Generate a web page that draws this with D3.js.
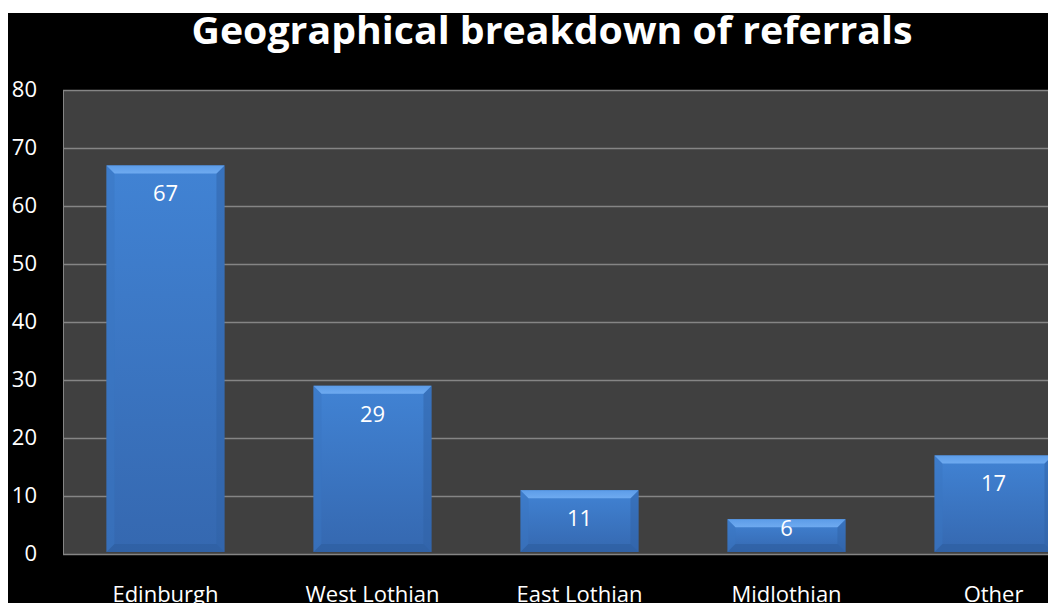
<!DOCTYPE html>
<html>
<head>
<meta charset="utf-8">
<script src="https://cdn.jsdelivr.net/npm/d3@7"></script>
<style>
  html, body { margin: 0; padding: 0; background: #fff; }
  svg { display: block; }
</style>
</head>
<body>
<div id="chart"></div>
<script>
// chart data
let categories = ["Edinburgh", "West Lothian", "East Lothian", "Midlothian", "Other"];
let referrals = [67, 29, 11, 6, 17];
let yTicks = [0, 10, 20, 30, 40, 50, 60, 70, 80];
let chartTitle = "Geographical breakdown of referrals";

let width = 1048, height = 603;
let plotLeft = 63, plotTop = 90, plotBottom = 554;

let svg = d3.select("#chart").append("svg")
    .attr("width", width)
    .attr("height", height);

// white edge then black chart background
svg.append("rect").attr("x", 8).attr("y", 13)
    .attr("width", width - 8).attr("height", height - 13)
    .attr("fill", "#000");

let x = d3.scaleBand()
    .domain(categories)
    .range([plotLeft, 1096])
    .paddingInner(0.43)
    .paddingOuter(0.21);

let y = d3.scaleLinear()
    .domain([0, 80])
    .range([plotBottom, plotTop]);

// plot area
svg.append("rect")
    .attr("x", plotLeft).attr("y", plotTop)
    .attr("width", width - plotLeft).attr("height", plotBottom - plotTop)
    .attr("fill", "#404040");

// gridlines
svg.append("g").selectAll("line")
    .data(yTicks)
    .enter().append("line")
    .attr("x1", plotLeft).attr("x2", width)
    .attr("y1", d => y(d) + 0.5).attr("y2", d => y(d) + 0.5)
    .attr("stroke", "#858585")
    .attr("stroke-width", 1.5);

svg.append("line")
    .attr("x1", plotLeft + 0.5).attr("x2", plotLeft + 0.5)
    .attr("y1", plotTop).attr("y2", plotBottom)
    .attr("stroke", "#858585");

// y axis labels
let yAxis = d3.axisLeft(y).tickValues(yTicks).tickSize(0).tickPadding(0);
let yg = svg.append("g")
    .attr("transform", "translate(37,0)")
    .call(yAxis);
yg.select(".domain").remove();
yg.selectAll("text")
    .attr("fill", "#fff")
    .attr("font-family", "'Open Sans', sans-serif")
    .attr("font-size", 22)
    .attr("dy", "0.3em");

// x axis labels (cut at the bottom edge, as in the original)
let xAxis = d3.axisBottom(x).tickSize(0).tickPadding(0);
let xg = svg.append("g")
    .call(xAxis);
xg.select(".domain").remove();
xg.selectAll("text")
    .attr("fill", "#fff")
    .attr("font-family", "'Open Sans', sans-serif")
    .attr("font-size", 22)
    .attr("y", 602)
    .attr("dy", 0);

// bar gradient
let defs = svg.append("defs");
let grad = defs.append("linearGradient")
    .attr("id", "barGrad")
    .attr("x1", 0).attr("y1", 0).attr("x2", 0).attr("y2", 1);
grad.append("stop").attr("offset", "0%").attr("stop-color", "#4183d4");
grad.append("stop").attr("offset", "100%").attr("stop-color", "#3568b0");

let topGrad = defs.append("linearGradient")
    .attr("id", "topGrad")
    .attr("x1", 0).attr("y1", 0).attr("x2", 0).attr("y2", 1);
topGrad.append("stop").attr("offset", "0%").attr("stop-color", "#5c9ce8");
topGrad.append("stop").attr("offset", "100%").attr("stop-color", "#6eaaf0");

let bev = 8;
let data = categories.map((c, i) => ({ cat: c, val: referrals[i] }));

let bars = svg.append("g").selectAll("g.bar")
    .data(data)
    .enter().append("g")
    .attr("class", "bar");

bars.append("rect")
    .attr("x", d => x(d.cat))
    .attr("y", d => y(d.val))
    .attr("width", x.bandwidth())
    .attr("height", d => y(0) - y(d.val) - 2)
    .attr("fill", "url(#barGrad)");

// bevel edges
function bevel(d, side) {
    let x0 = x(d.cat), x1 = x0 + x.bandwidth();
    let y0 = y(d.val), y1 = y(0) - 2;
    let pts;
    if (side === "top") pts = [[x0, y0], [x1, y0], [x1 - bev, y0 + bev], [x0 + bev, y0 + bev]];
    if (side === "bottom") pts = [[x0, y1], [x1, y1], [x1 - bev, y1 - bev], [x0 + bev, y1 - bev]];
    if (side === "left") pts = [[x0, y0], [x0 + bev, y0 + bev], [x0 + bev, y1 - bev], [x0, y1]];
    if (side === "right") pts = [[x1, y0], [x1 - bev, y0 + bev], [x1 - bev, y1 - bev], [x1, y1]];
    return pts.map(p => p.join(",")).join(" ");
}
bars.append("polygon").attr("points", d => bevel(d, "left")).attr("fill", "#3a76c2").attr("opacity", 0.5);
bars.append("polygon").attr("points", d => bevel(d, "right")).attr("fill", "#2f62a6").attr("opacity", 0.5);
bars.append("polygon").attr("points", d => bevel(d, "bottom")).attr("fill", "#2d5d9e").attr("opacity", 0.6);
bars.append("polygon").attr("points", d => bevel(d, "top")).attr("fill", "url(#topGrad)");

// data labels
bars.append("text")
    .attr("x", d => x(d.cat) + x.bandwidth() / 2)
    .attr("y", d => {
        let h = y(0) - y(d.val);
        return h > 50 ? y(d.val) + 28 : y(d.val) + 9;
    })
    .attr("dy", "0.35em")
    .attr("text-anchor", "middle")
    .attr("fill", "#fff")
    .attr("font-family", "'Open Sans', sans-serif")
    .attr("font-size", 22)
    .text(d => d.val);

// title
svg.append("text")
    .attr("x", 552)
    .attr("y", 44)
    .attr("text-anchor", "middle")
    .attr("fill", "#fff")
    .attr("font-family", "'Open Sans', sans-serif")
    .attr("font-weight", "bold")
    .attr("font-size", 37)
    .attr("textLength", 721)
    .attr("lengthAdjust", "spacingAndGlyphs")
    .text(chartTitle);
</script>
</body>
</html>
